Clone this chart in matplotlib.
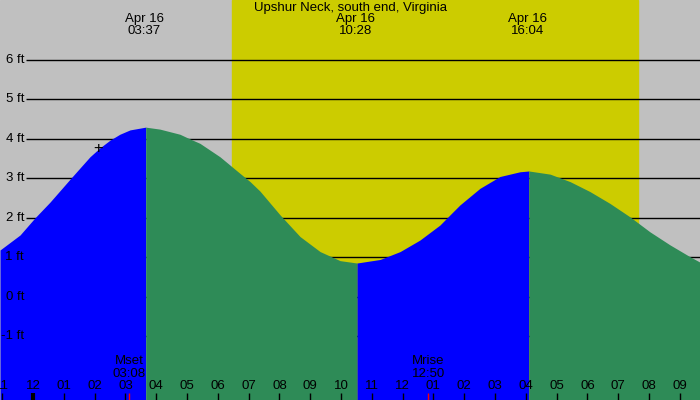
import matplotlib
matplotlib.use("Agg")
import matplotlib.pyplot as plt

plt.rcParams["font.family"] = ["Liberation Sans", "DejaVu Sans"]

# 潮位 (時刻は4/16 0時からの時間, 高さはft)
tide_hours = [-1.07, -0.42, 0.06, 0.55, 1.20, 1.53, 1.85, 2.18, 2.50, 2.82, 3.15, 3.66,
              4.12, 4.77, 5.10, 5.42, 6.07, 6.72, 7.05, 7.37, 8.02, 8.67, 9.32, 9.97, 10.52,
              11.27, 11.92, 12.56, 13.21, 13.54, 13.86, 14.51, 15.16, 15.81, 16.10,
              16.79, 17.44, 18.08, 18.73, 19.38, 20.03, 20.68, 21.33, 21.66]
tide_ft = [1.19, 1.57, 2.00, 2.40, 2.98, 3.27, 3.55, 3.78, 3.97, 4.12, 4.23, 4.30,
           4.25, 4.12, 4.00, 3.89, 3.55, 3.13, 2.92, 2.68, 2.08, 1.53, 1.15, 0.92, 0.86,
           0.95, 1.15, 1.44, 1.82, 2.08, 2.33, 2.75, 3.05, 3.17, 3.19,
           3.11, 2.92, 2.67, 2.37, 2.03, 1.65, 1.32, 1.02, 0.88]

# 満潮・干潮
extreme_hours = [3.617, 10.467, 16.067]
extreme_labels = ["03:37", "10:28", "16:04"]
date_label = "Apr 16"

# 日の出・日の入り
sunrise = 6.46
sunset = 19.64

# 月の出・月の入り
moon_hours = [3.133, 12.833]
moon_names = ["Mset", "Mrise"]
moon_labels = ["03:08", "12:50"]

feet_levels = [-1, 0, 1, 2, 3, 4, 5, 6]
hour_ticks = list(range(-1, 22))

title = "Upshur Neck, south end, Virginia"

XMIN, XMAX = -1.071, 21.656
YMIN, YMAX = -2.608, 7.519
FS = 9.5

fig = plt.figure(figsize=(7, 4), dpi=100)
ax = fig.add_axes([0, 0, 1, 1])
ax.set_xlim(XMIN, XMAX)
ax.set_ylim(YMIN, YMAX)
ax.axis("off")

ax.axvspan(XMIN, XMAX, color="#c0c0c0", zorder=0)
ax.axvspan(sunrise, sunset, color="#cccc00", zorder=1)

ax.hlines(feet_levels, -0.227, XMAX, color="black", linewidth=1, zorder=2)

# 上げ潮は青, 下げ潮は緑 (極値で区切る)
turns = [0]
for i in range(1, len(tide_ft) - 1):
    if (tide_ft[i] - tide_ft[i - 1]) * (tide_ft[i + 1] - tide_ft[i]) < 0:
        turns.append(i)
turns.append(len(tide_ft) - 1)
for a, b in zip(turns[:-1], turns[1:]):
    xs = tide_hours[a:b + 1]
    ys = tide_ft[a:b + 1]
    color = "#0000ff" if ys[-1] > ys[0] else "#2e8b57"
    ax.fill_between(xs, ys, YMIN, color=color, linewidth=0, zorder=3)

for lv in feet_levels:
    ax.text(-0.29, lv, f"{lv} ft", ha="right", va="center", fontsize=FS, zorder=5)

ax.text((XMIN + XMAX) / 2, YMAX - 0.2, title, ha="center", va="center", fontsize=FS, zorder=5)
for t, lab in zip(extreme_hours, extreme_labels):
    ax.text(t, YMAX - 0.48, date_label, ha="center", va="center", fontsize=FS, zorder=5)
    ax.text(t, YMAX - 0.79, lab, ha="center", va="center", fontsize=FS, zorder=5)

xt = ax.get_xaxis_transform()
for h in hour_ticks:
    lw = 3 if h % 24 == 0 else 1
    ax.vlines(h, 0, 0.0175, color="black", linewidth=lw, transform=xt, zorder=6)
    ax.text(h, 0.035, f"{(h % 12) or 12:02d}", ha="center", va="center",
            fontsize=FS, transform=xt, zorder=6)

for t, name, lab in zip(moon_hours, moon_names, moon_labels):
    ax.vlines(t, 0, 0.0175, color="red", linewidth=1, transform=xt, zorder=7)
    ax.text(t, 0.0975, name, ha="center", va="center", fontsize=FS, transform=xt, zorder=6)
    ax.text(t, 0.065, lab, ha="center", va="center", fontsize=FS, transform=xt, zorder=6)

ax.text(2.11, 3.77, "+", ha="center", va="center", fontsize=12, zorder=6)

fig.savefig("out.png", dpi=100)
